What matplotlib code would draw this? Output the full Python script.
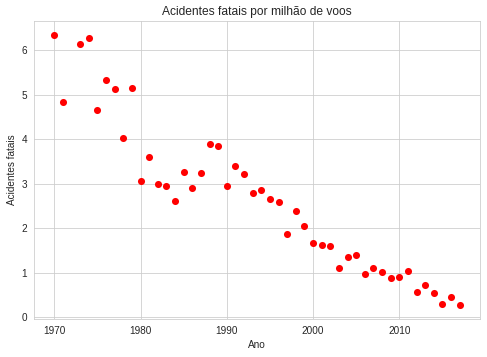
import matplotlib
matplotlib.use("Agg")
import matplotlib.pyplot as plt
import seaborn as sns

# Dados: acidentes fatais por milhão de voos
anos = [1970, 1971, 1973, 1974, 1975, 1976, 1977, 1978, 1979, 1980,
        1981, 1982, 1983, 1984, 1985, 1986, 1987, 1988, 1989, 1990,
        1991, 1992, 1993, 1994, 1995, 1996, 1997, 1998, 1999, 2000,
        2001, 2002, 2003, 2004, 2005, 2006, 2007, 2008, 2009, 2010,
        2011, 2012, 2013, 2014, 2015, 2016, 2017]
acidentes = [6.35, 4.83, 6.13, 6.27, 4.65, 5.33, 5.13, 4.02, 5.15, 3.07,
             3.60, 3.00, 2.95, 2.62, 3.27, 2.90, 3.25, 3.90, 3.85, 2.95,
             3.40, 3.22, 2.80, 2.85, 2.67, 2.60, 1.88, 2.40, 2.06, 1.68,
             1.62, 1.60, 1.12, 1.35, 1.40, 0.97, 1.10, 1.02, 0.88, 0.90,
             1.05, 0.58, 0.74, 0.56, 0.30, 0.45, 0.27]

sns.set_style("whitegrid")
plt.rcParams['font.family'] = ['Liberation Sans', 'DejaVu Sans']

fig = plt.figure(figsize=(487 / 72, 357 / 72), dpi=72)
ax = fig.add_axes([34 / 487, 38 / 357, 446 / 487, 298 / 357])

ax.scatter(anos, acidentes, color="red", s=50, linewidths=0)
ax.set_title("Acidentes fatais por milhão de voos")
ax.set_xlabel("Ano")
ax.set_ylabel("Acidentes fatais")

fig.savefig("out.png", dpi=72)
